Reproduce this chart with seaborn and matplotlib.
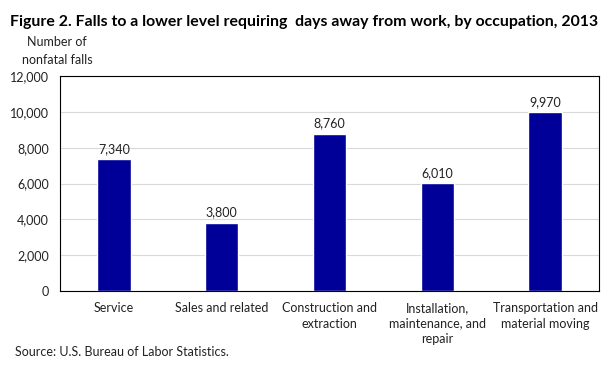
import matplotlib
matplotlib.use("Agg")
import matplotlib.pyplot as plt
import seaborn as sns
import pandas as pd
from matplotlib.ticker import FuncFormatter, MultipleLocator

categories = ["Service", "Sales and related", "Construction and\nextraction",
              "Installation,\nmaintenance, and\nrepair", "Transportation and\nmaterial moving"]
values = [7340, 3800, 8760, 6010, 9970]

sns.set_theme(style="white")
plt.rcParams['font.family'] = ['Lato', 'DejaVu Sans']

df = pd.DataFrame({"cat": categories, "val": values})
fig = plt.figure(figsize=(6.12, 3.66), dpi=100)
ax = fig.add_axes([60/612, 75/366, 539/612, 215/366])
sns.barplot(data=df, x="cat", y="val", color="#000099", width=0.31, ax=ax, saturation=1)
ax.set_ylim(0, 12000)
ax.set_xlim(-0.5, 4.5)
ax.yaxis.set_major_locator(MultipleLocator(2000))
ax.yaxis.set_major_formatter(FuncFormatter(lambda v, p: f"{int(v):,}"))
ax.grid(axis="y", color="#d9d9d9", linewidth=0.8)
ax.set_axisbelow(True)
for s in ax.spines.values():
    s.set_color("black")
    s.set_linewidth(0.8)
ax.set_xlabel("")
ax.set_ylabel("")
ax.tick_params(axis="y", length=0, labelsize=9, colors="#222222", pad=8)
ax.tick_params(axis="x", length=0, labelsize=9, colors="#222222", pad=8)
for lbl in ax.get_xticklabels():
    lbl.set_verticalalignment("top")
    lbl.set_linespacing(1.35)
for i, v in enumerate(values):
    ax.text(i, v + 250, f"{v:,}", ha="center", va="bottom", fontsize=9, color="#222222")

fig.text(10/612, 1 - 22/366, "Figure 2. Falls to a lower level requiring  days away from work, by occupation, 2013",
         fontsize=11.4, fontweight="bold", va="center", ha="left", color="black")
fig.text(57/612, 1 - 51/366, "Number of\nnonfatal falls", fontsize=9, ha="center", va="center",
         linespacing=1.5, color="#222222")
fig.text(15/612, 1 - 352/366, "Source: U.S. Bureau of Labor Statistics.", fontsize=9, ha="left",
         va="center", color="#222222")
fig.savefig("out.png", dpi=100)
